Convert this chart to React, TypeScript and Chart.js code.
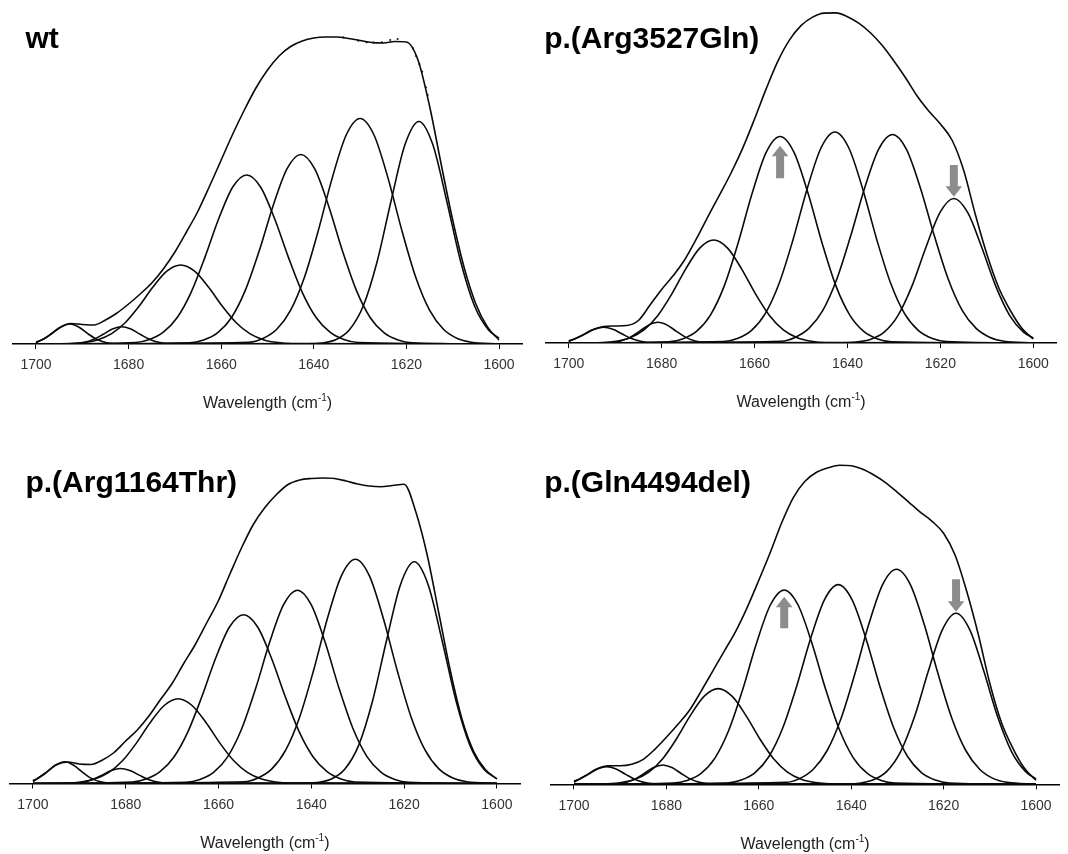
import React, { useEffect, useRef } from "react";
import { Chart, registerables } from "chart.js";

Chart.register(...registerables);

const FONT = '"Liberation Sans", Arial, Helvetica, sans-serif';

// ---------- shared axis / sampling data ----------
const xTickValues = [1700, 1680, 1660, 1640, 1620, 1600];
const fitStart = 1700;
const fitEnd = 1600;
const envelopeWavenumbers = [
  1700, 1697.5, 1695, 1692.5, 1690, 1687.5, 1685, 1682.5, 1680, 1677.5, 1675,
  1672.5, 1670, 1667.5, 1665, 1662.5, 1660, 1657.5, 1655, 1652.5, 1650,
  1647.5, 1645, 1642.5, 1640, 1637.5, 1635, 1632.5, 1630, 1627.5, 1625,
  1622.5, 1620, 1617.5, 1615, 1612.5, 1610, 1607.5, 1605, 1602.5, 1600,
];
// sample offsets (cm-1) around each band centre
const narrowOffsets = [10, 8, 6, 4, 2, 0, -2, -4, -6, -8, -10];
const wideOffsets = [24, 21, 18, 15, 12, 9, 6, 3, 0, -3, -6, -9, -12, -15, -18, -21, -24];

// ---------- wt ----------
const wtCenters = [1692.7, 1681.5, 1668.75, 1654.5, 1642.8, 1630, 1617.3];
const wtBands = [
  [0.3, 1.3, 4.2, 10.0, 16.8, 20, 16.8, 10.0, 4.2, 1.3, 0.3],
  [0.4, 1.7, 4.7, 9.7, 14.9, 17.3, 14.9, 9.7, 4.7, 1.7, 0.4],
  [0.4, 1.4, 4.1, 10.1, 21.2, 37.7, 56.9, 72.8, 79, 72.8, 56.9, 37.7, 21.2, 10.1, 4.1, 1.4, 0.4],
  [1.5, 4.5, 11.8, 26.5, 51.7, 86.9, 125.7, 157, 169, 157, 125.7, 86.9, 51.7, 26.5, 11.8, 4.5, 1.5],
  [1.2, 4, 11.1, 26.3, 53.6, 93, 138.1, 175.1, 189.5, 175.1, 138.1, 93, 53.6, 26.3, 11.1, 4, 1.2],
  [1.8, 5.5, 14.7, 33.8, 67, 113.9, 166.4, 209, 225.5, 209, 166.4, 113.9, 67, 33.8, 14.7, 5.5, 1.8],
  [0.2, 1, 4.2, 14.3, 38.3, 82.8, 143.3, 199.4, 222.5, 199.4, 143.3, 82.8, 38.3, 14.3, 4.2, 1, 0.2],
];
const wtBandsAt1700 = [2, 0, 0, 0, 0, 0, 0];
const wtBandsAt1600 = [0, 0, 0, 0, 0, 0.1, 5.8];
const wtEnvelope = [
  1, 7.5, 16, 20.5, 19.5, 19, 24, 31, 40, 50, 61, 75, 92, 112, 133, 158, 184,
  210, 234, 256, 274, 288, 297.5, 303, 306, 307, 307, 305.5, 303.5, 301.5,
  301, 302.5, 302, 284, 238, 180, 124, 76, 40, 17, 4,
];
// measured spectrum points visible off the fitted line
const wtMeasuredX = [1633.6, 1630.4, 1628.6, 1627.1, 1625.3, 1623.5, 1621.9, 1618.6, 1617.9, 1617.2, 1616.6, 1615.8, 1615.4];
const wtMeasuredY = [306.7, 303.3, 301.7, 301.3, 301.7, 304, 305, 295.7, 288, 280, 272.3, 256.7, 249];

// ---------- p.(Arg3527Gln) ----------
const r3527Centers = [1692.5, 1680.8, 1668.8, 1654.5, 1642.7, 1630.3, 1617.1];
const r3527Bands = [
  [0.5, 1.7, 4.5, 9, 13.7, 15.7, 13.7, 9, 4.5, 1.7, 0.5],
  [0.5, 2, 5.6, 11.6, 17.9, 20.7, 17.9, 11.6, 5.6, 2, 0.5],
  [0.5, 1.8, 5.3, 13.2, 27.6, 49.1, 74.2, 94.9, 103, 94.9, 74.2, 49.1, 27.6, 13.2, 5.3, 1.8, 0.5],
  [1.2, 4.1, 11.6, 27.9, 57.4, 100.6, 149.9, 190.6, 206.5, 190.6, 149.9, 100.6, 57.4, 27.9, 11.6, 4.1, 1.2],
  [1.4, 4.4, 12.3, 29.3, 59.7, 103.6, 153.8, 195, 211, 195, 153.8, 103.6, 59.7, 29.3, 12.3, 4.4, 1.4],
  [1.8, 5.6, 14.6, 32.7, 63.8, 107.2, 155.1, 193.7, 208.5, 193.7, 155.1, 107.2, 63.8, 32.7, 14.6, 5.6, 1.8],
  [0.2, 0.9, 3.5, 10.9, 27.7, 57.1, 95.7, 130.3, 144.5, 130.3, 95.7, 57.1, 27.7, 10.9, 3.5, 0.9, 0.2],
];
const r3527BandsAt1700 = [2.2, 0, 0, 0, 0, 0, 0];
const r3527BandsAt1600 = [0, 0, 0, 0, 0, 0.2, 5];
const r3527Envelope = [
  1.5, 6.7, 12.9, 16.4, 17, 17.5, 22.5, 37.9, 53.6, 67.4, 83.5, 104.3, 126.7,
  148.4, 170.5, 195.4, 224, 254.1, 281.6, 302.9, 317.4, 325.9, 329.9, 330.1,
  326.3, 319.6, 310, 297.4, 282, 265.3, 247, 232, 219, 203, 173, 129, 89, 56,
  33, 15, 4,
];
const r3527ArrowWavenumbers = [1654.5, 1617.1];
const r3527ArrowFrom = [164.7, 178];
const r3527ArrowTo = [197.3, 146.3];

// ---------- p.(Arg1164Thr) ----------
const r1164Centers = [1693.2, 1681.1, 1668.7, 1654.6, 1643, 1630.5, 1617.8];
const r1164Bands = [
  [0.3, 1.4, 4.6, 10.9, 18.2, 21.7, 18.2, 10.9, 4.6, 1.4, 0.3],
  [0.4, 1.4, 4, 8.4, 13, 15, 13, 8.4, 4, 1.4, 0.4],
  [0.4, 1.5, 4.4, 10.8, 22.7, 40.4, 61, 78, 84.7, 78, 61, 40.4, 22.7, 10.8, 4.4, 1.5, 0.4],
  [1.5, 4.5, 11.8, 26.5, 51.6, 86.7, 125.5, 156.7, 168.7, 156.7, 125.5, 86.7, 51.6, 26.5, 11.8, 4.5, 1.5],
  [1.2, 4, 11.3, 26.9, 54.7, 94.9, 140.9, 178.6, 193.3, 178.6, 140.9, 94.9, 54.7, 26.9, 11.3, 4, 1.2],
  [1.7, 5.5, 14.6, 33.6, 66.6, 113.3, 165.5, 207.9, 224.3, 207.9, 165.5, 113.3, 66.6, 33.6, 14.6, 5.5, 1.7],
  [0.2, 1, 4.2, 14.2, 38.1, 82.5, 142.8, 198.6, 221.7, 198.6, 142.8, 82.5, 38.1, 14.2, 4.2, 1, 0.2],
];
const r1164BandsAt1700 = [2.9, 0, 0, 0, 0, 0, 0];
const r1164BandsAt1600 = [0, 0, 0, 0, 0, 0.1, 4.6];
const r1164Envelope = [
  2, 9.5, 18.5, 21.5, 19.5, 19, 23.5, 31, 42.5, 53.5, 67.5, 84, 100, 120, 139,
  161, 183, 210, 236, 259, 276, 289, 299, 303.5, 305, 305.5, 305, 302.5, 299.5,
  297.5, 296.8, 298, 299.3, 272, 228, 170, 112, 64, 32, 14, 4.5,
];

// ---------- p.(Gln4494del) ----------
const q4494Centers = [1692.9, 1680.8, 1668.8, 1654.5, 1642.8, 1630.2, 1617.3];
const q4494Bands = [
  [0.6, 1.9, 5.1, 10.2, 15.4, 17.7, 15.4, 10.2, 5.1, 1.9, 0.6],
  [0.5, 1.9, 5.2, 10.8, 16.7, 19.3, 16.7, 10.8, 5.2, 1.9, 0.5],
  [0.5, 1.7, 5, 12.2, 25.6, 45.6, 68.9, 88.1, 95.7, 88.1, 68.9, 45.6, 25.6, 12.2, 5, 1.7, 0.5],
  [1.2, 3.8, 10.9, 26.2, 54, 94.6, 141.1, 179.3, 194.3, 179.3, 141.1, 94.6, 54, 26.2, 10.9, 3.8, 1.2],
  [1.3, 4.2, 11.7, 27.8, 56.5, 98.1, 145.6, 184.5, 199.7, 184.5, 145.6, 98.1, 56.5, 27.8, 11.7, 4.2, 1.3],
  [1.9, 5.7, 15.1, 33.8, 65.8, 110.5, 160, 199.7, 215, 199.7, 160, 110.5, 65.8, 33.8, 15.1, 5.7, 1.9],
  [0.2, 1.1, 4.2, 12.9, 32.7, 67.5, 113.2, 154.2, 171, 154.2, 113.2, 67.5, 32.7, 12.9, 4.2, 1.1, 0.2],
];
const q4494BandsAt1700 = [3.1, 0, 0, 0, 0, 0, 0];
const q4494BandsAt1600 = [0, 0, 0, 0, 0, 0.2, 5.5];
const q4494Envelope = [
  2, 8.5, 15.5, 18.5, 18.5, 20, 25, 35, 47, 60, 74, 93, 113, 133, 153, 177,
  204, 232, 262, 287, 303, 312, 316.5, 319, 318.5, 315, 309, 301.5, 292, 282,
  272, 263, 251, 229, 193, 150, 101, 62, 36, 16, 4,
];
const q4494ArrowWavenumbers = [1654.5, 1617.3];
const q4494ArrowFrom = [156, 205];
const q4494ArrowTo = [187.6, 172.6];

// ---------- layout (positions / sizes only) ----------
type PanelSpec = {
  title: string;
  centers: number[];
  bands: number[][];
  at1700: number[];
  at1600: number[];
  envelope: number[];
  measuredX?: number[];
  measuredY?: number[];
  arrowX?: number[];
  arrowFrom?: number[];
  arrowTo?: number[];
  left: number;
  top: number;
  w: number;
  h: number;
  padL: number;
  padR: number;
  padT: number;
  axisH: number;
  titleX: number;
  titleY: number;
};

const panels: PanelSpec[] = [
  {
    title: "wt", centers: wtCenters, bands: wtBands, at1700: wtBandsAt1700, at1600: wtBandsAt1600,
    envelope: wtEnvelope, measuredX: wtMeasuredX, measuredY: wtMeasuredY,
    left: 0, top: 0, w: 534, h: 440, padL: 12.85, padR: 11.85, padT: 4, axisH: 96,
    titleX: 25.4, titleY: 48.3,
  },
  {
    title: "p.(Arg3527Gln)", centers: r3527Centers, bands: r3527Bands,
    at1700: r3527BandsAt1700, at1600: r3527BandsAt1600, envelope: r3527Envelope,
    arrowX: r3527ArrowWavenumbers, arrowFrom: r3527ArrowFrom, arrowTo: r3527ArrowTo,
    left: 534, top: 0, w: 534, h: 440, padL: 11.5, padR: 11.5, padT: 4, axisH: 97,
    titleX: 10.2, titleY: 48.3,
  },
  {
    title: "p.(Arg1164Thr)", centers: r1164Centers, bands: r1164Bands,
    at1700: r1164BandsAt1700, at1600: r1164BandsAt1600, envelope: r1164Envelope,
    left: 0, top: 440, w: 534, h: 414, padL: 9.7, padR: 13.9, padT: 4, axisH: 70.5,
    titleX: 25.4, titleY: 51.7,
  },
  {
    title: "p.(Gln4494del)", centers: q4494Centers, bands: q4494Bands,
    at1700: q4494BandsAt1700, at1600: q4494BandsAt1600, envelope: q4494Envelope,
    arrowX: q4494ArrowWavenumbers, arrowFrom: q4494ArrowFrom, arrowTo: q4494ArrowTo,
    left: 534, top: 440, w: 534, h: 414, padL: 16.9, padR: 8.9, padT: 4, axisH: 69.7,
    titleX: 10.2, titleY: 51.7,
  },
];

const LINE = "#0a0a0a";

function bandPoints(spec: PanelSpec, i: number) {
  const vals = spec.bands[i];
  const offs = vals.length === narrowOffsets.length ? narrowOffsets : wideOffsets;
  const pts = vals
    .map((v, j) => ({ x: spec.centers[i] + offs[j], y: v }))
    .filter((p) => p.x < fitStart && p.x > fitEnd);
  return [{ x: fitStart, y: spec.at1700[i] }, ...pts, { x: fitEnd, y: spec.at1600[i] }];
}

function Panel({ spec }: { spec: PanelSpec }) {
  const ref = useRef<HTMLCanvasElement>(null);

  useEffect(() => {
    const canvas = ref.current;
    if (!canvas) return;

    const lineStyle = {
      borderColor: LINE,
      borderWidth: 1.6,
      pointRadius: 0,
      fill: false,
      cubicInterpolationMode: "monotone" as const,
      borderJoinStyle: "round" as const,
    };

    const datasets: any[] = spec.bands.map((_, i) => ({
      ...lineStyle,
      data: bandPoints(spec, i),
    }));
    datasets.push({
      ...lineStyle,
      data: spec.envelope.map((v, j) => ({ x: envelopeWavenumbers[j], y: v })),
    });
    if (spec.measuredX && spec.measuredY) {
      datasets.push({
        showLine: false,
        pointRadius: 1.1,
        pointBorderWidth: 0,
        pointBackgroundColor: "#222",
        borderColor: "#222",
        data: spec.measuredX.map((x, j) => ({ x, y: spec.measuredY![j] })),
      });
    }

    const textPlugin = {
      id: "panelText",
      afterDraw(chart: any) {
        const ctx = chart.ctx as CanvasRenderingContext2D;
        const ca = chart.chartArea;
        ctx.save();
        ctx.fillStyle = "#000";
        ctx.textAlign = "left";
        ctx.textBaseline = "alphabetic";
        ctx.font = `bold 30px ${FONT}`;
        ctx.fillText(spec.title, spec.titleX, spec.titleY);
        const main = "Wavelength (cm";
        const sup = "-1";
        const close = ")";
        ctx.fillStyle = "#222";
        ctx.font = `16px ${FONT}`;
        const w1 = ctx.measureText(main).width;
        const w3 = ctx.measureText(close).width;
        ctx.font = `10px ${FONT}`;
        const w2 = ctx.measureText(sup).width;
        const total = w1 + w2 + w3;
        let x = (ca.left + ca.right) / 2 - total / 2;
        const y = ca.bottom + 64.3;
        ctx.font = `16px ${FONT}`;
        ctx.fillText(main, x, y);
        x += w1;
        ctx.font = `10px ${FONT}`;
        ctx.fillText(sup, x, y - 7);
        x += w2;
        ctx.font = `16px ${FONT}`;
        ctx.fillText(close, x, y);
        ctx.restore();
      },
    };

    const arrowPlugin = {
      id: "arrows",
      afterDatasetsDraw(chart: any) {
        if (!spec.arrowX) return;
        const ctx = chart.ctx as CanvasRenderingContext2D;
        const xs = chart.scales.x;
        const ys = chart.scales.y;
        ctx.save();
        ctx.fillStyle = "#8c8c8c";
        spec.arrowX.forEach((nu, i) => {
          const px = xs.getPixelForValue(nu);
          const yFrom = ys.getPixelForValue(spec.arrowFrom![i]);
          const yTip = ys.getPixelForValue(spec.arrowTo![i]);
          const dir = yTip < yFrom ? -1 : 1;
          const headLen = 10.5;
          const shaftHalf = 4;
          const headHalf = 8.3;
          const yHeadBase = yTip - dir * headLen;
          ctx.beginPath();
          ctx.moveTo(px - shaftHalf, yFrom);
          ctx.lineTo(px - shaftHalf, yHeadBase);
          ctx.lineTo(px - headHalf, yHeadBase);
          ctx.lineTo(px, yTip);
          ctx.lineTo(px + headHalf, yHeadBase);
          ctx.lineTo(px + shaftHalf, yHeadBase);
          ctx.lineTo(px + shaftHalf, yFrom);
          ctx.closePath();
          ctx.fill();
        });
        ctx.restore();
      },
    };

    const plotHeight = spec.h - spec.axisH - spec.padT;

    const chart = new Chart(canvas, {
      type: "line",
      data: { datasets },
      options: {
        animation: false,
        responsive: false,
        maintainAspectRatio: false,
        events: [],
        layout: { padding: { left: spec.padL, right: spec.padR, top: spec.padT, bottom: 0 } },
        plugins: {
          legend: { display: false },
          tooltip: { enabled: false },
          title: { display: false },
        },
        scales: {
          x: {
            type: "linear",
            reverse: true,
            min: 1595,
            max: 1705,
            afterBuildTicks: (scale: any) => {
              scale.ticks = xTickValues.map((v) => ({ value: v }));
            },
            afterFit: (scale: any) => {
              scale.height = spec.axisH;
            },
            grid: {
              display: true,
              drawOnChartArea: false,
              drawTicks: true,
              tickLength: 5,
              tickWidth: 1,
              tickColor: "#000",
            },
            border: { display: true, color: "#000", width: 1.4 },
            ticks: {
              font: { family: FONT, size: 14 },
              color: "#333",
              padding: 8,
              maxRotation: 0,
              autoSkip: false,
              callback: (v: any) => String(v),
            },
          },
          y: {
            display: false,
            min: 0,
            max: plotHeight,
          },
        },
      },
      plugins: [arrowPlugin, textPlugin],
    } as any);

    return () => chart.destroy();
  }, [spec]);

  return (
    <canvas
      ref={ref}
      width={spec.w}
      height={spec.h}
      style={{ position: "absolute", left: spec.left, top: spec.top, width: spec.w, height: spec.h }}
    />
  );
}

export default function App() {
  return (
    <div
      style={{
        position: "absolute",
        left: 0,
        top: 0,
        width: 1068,
        height: 854,
        background: "#fff",
        overflow: "hidden",
      }}
    >
      {panels.map((p) => (
        <Panel key={p.title} spec={p} />
      ))}
    </div>
  );
}
